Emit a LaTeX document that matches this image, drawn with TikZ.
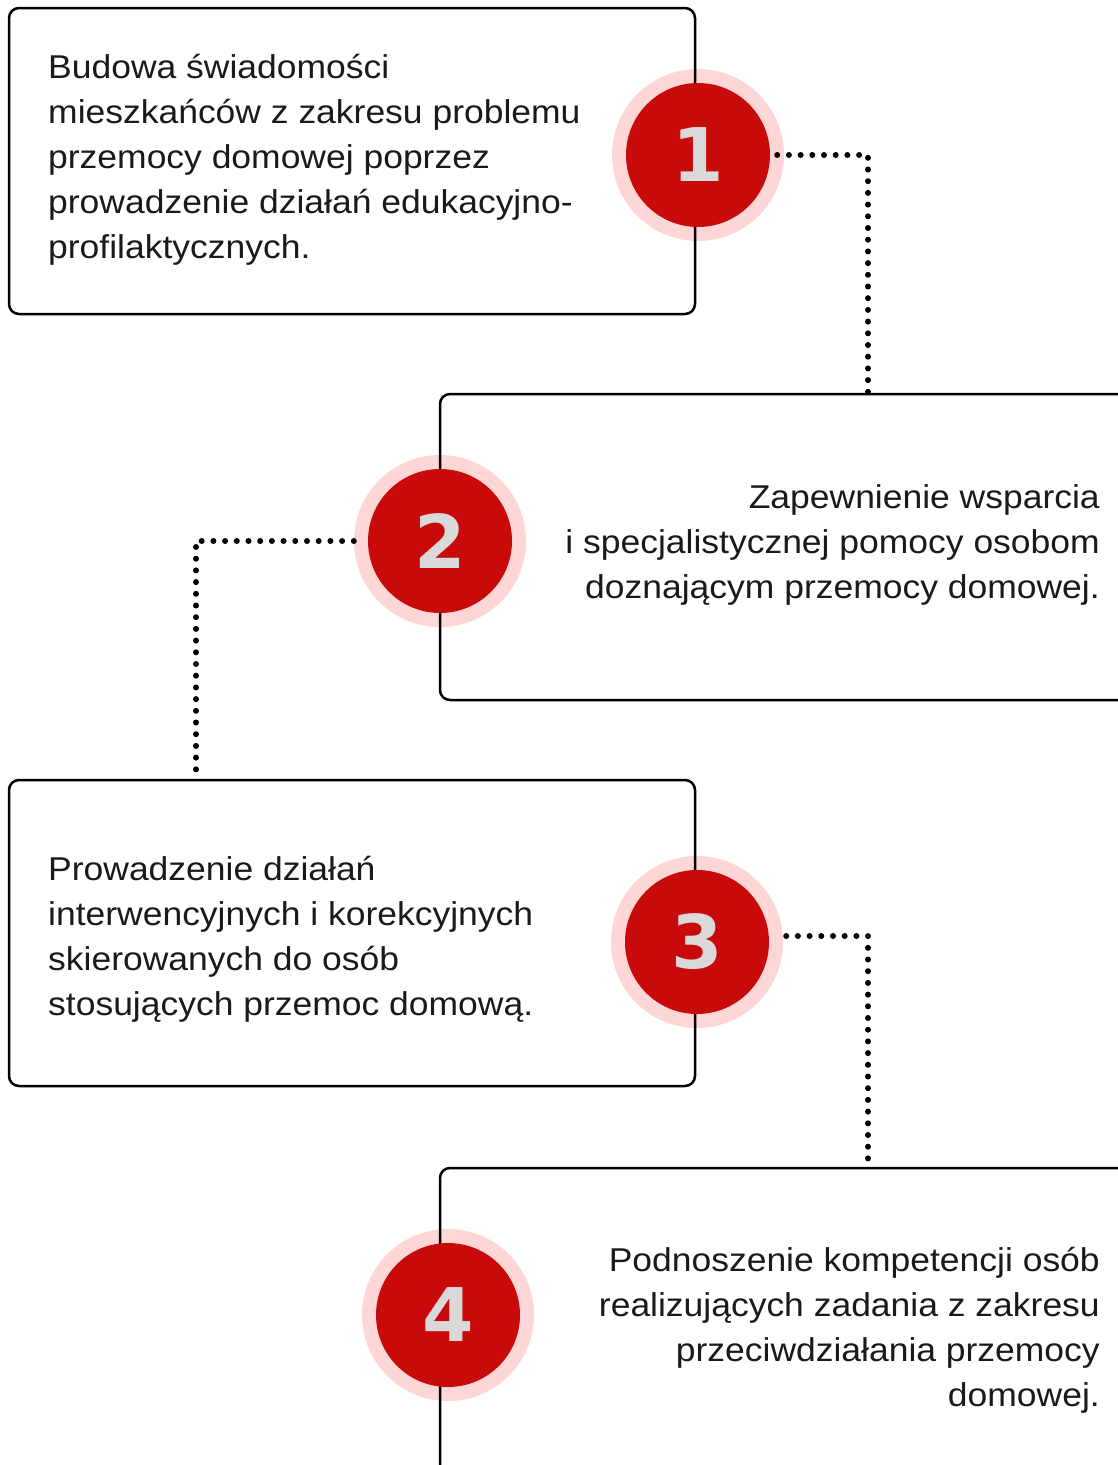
\documentclass[tikz,border=0pt]{standalone}
\usepackage{fontspec}
\setmainfont[FakeStretch=1.075]{Liberation Sans}
\newfontfamily\numfont{DejaVu Sans}
\definecolor{txt}{HTML}{1A1A1A}
\definecolor{ring}{HTML}{FFD6D6}
\definecolor{redc}{HTML}{C80A0A}
\definecolor{numc}{HTML}{D9D9D9}
\begin{document}
\begin{tikzpicture}[x=1pt,y=-1pt,
  box/.style={draw=black,line width=2.5pt,rounded corners=10pt,inner sep=0pt,minimum width=686pt,minimum height=306pt},
  ringc/.style={circle,fill=ring,minimum size=172pt,inner sep=0pt},
  redcirc/.style={circle,fill=redc,minimum size=144pt,inner sep=0pt,text=numc,font=\numfont\bfseries\fontsize{74}{74}\selectfont},
  dotline/.style={line width=6pt,line cap=round,dash pattern=on 0pt off 11.7pt},
  txtl/.style={anchor=west,align=left,inner sep=0pt,text=txt,font=\fontsize{33}{45}\selectfont},
  txtr/.style={anchor=east,align=right,inner sep=0pt,text=txt,font=\fontsize{33}{45}\selectfont}]
\useasboundingbox (0,0) rectangle (1118,1465);
\clip (0,0) rectangle (1118,1465);
\fill[white] (0,0) rectangle (1118,1465);
% rings
\node[ringc] (p1) at (698,155) {};
\node[ringc] (p2) at (440,541) {};
\node[ringc] (p3) at (697,942) {};
\node[ringc] (p4) at (448,1315) {};
% boxes
\node[box] (b1) at (352,161) {};
\node[box,minimum width=700pt] (b2) at (790,547) {};
\node[box] (b3) at (352,933) {};
\node[box,minimum width=700pt,minimum height=340pt] (b4) at (790,1338) {};
% red circles
\node[redcirc] (c1) at (p1) {1};
\node[redcirc] (c2) at (p2) {2};
\node[redcirc] (c3) at (p3) {3};
\node[redcirc] (c4) at (p4) {4};
% connectors
\coordinate (k1) at (868,394);
\coordinate (k2) at (196,780);
\coordinate (k3) at (868,1164);
\draw[dotline] (c1.east) ++(7,0) -| (k1);
\draw[dotline] (p2.west) -| (k2);
\draw[dotline] (p3.east) ++(3,-6) -| (k3);
% texts
\node[txtl] (t1) at (48,160) {Budowa świadomości\\mieszkańców z zakresu problemu\\przemocy domowej poprzez\\prowadzenie działań edukacyjno-\\profilaktycznych.};
\node[txtr] (t2) at (1100,545) {Zapewnienie wsparcia\hspace{10pt}\\i specjalistycznej pomocy osobom\\doznającym przemocy domowej.};
\node[txtl] (t3) at (48,939) {Prowadzenie działań\\interwencyjnych i korekcyjnych\\skierowanych do osób\\stosujących przemoc domową.};
\node[txtr] (t4) at (1100,1330) {Podnoszenie kompetencji osób\\realizujących zadania z zakresu\\przeciwdziałania przemocy\\domowej.};
\end{tikzpicture}
\end{document}
